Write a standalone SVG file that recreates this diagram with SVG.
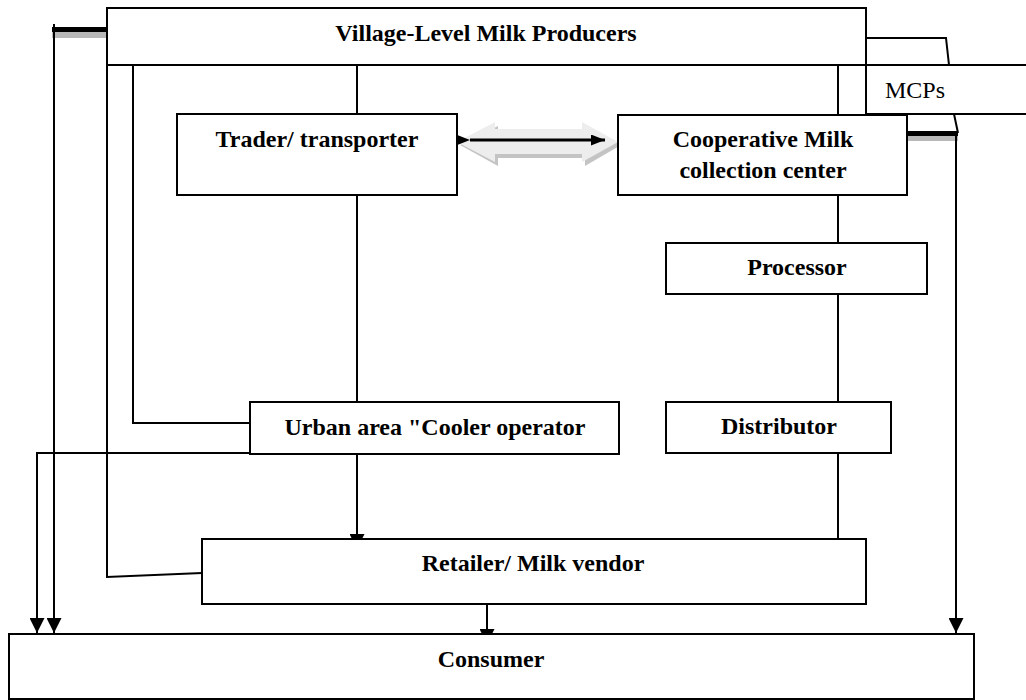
<svg xmlns="http://www.w3.org/2000/svg" width="1026" height="700" viewBox="0 0 1026 700">
<style>
.box{fill:#fff;stroke:#000;stroke-width:2}
.ln{fill:none;stroke:#000;stroke-width:2}
.t{font-family:"Liberation Serif","Times New Roman",serif;font-size:24px;font-weight:bold;text-anchor:middle;fill:#000}
.tr{font-family:"Liberation Serif","Times New Roman",serif;font-size:24px;fill:#000}
</style>
<defs>
<marker id="ah" markerUnits="userSpaceOnUse" markerWidth="15" markerHeight="15" refX="15" refY="7.5" orient="auto">
<path d="M0,0 L15,7.5 L0,15 z" fill="#000"/>
</marker>
<marker id="sh" markerUnits="userSpaceOnUse" markerWidth="14" markerHeight="11" refX="14" refY="5.5" orient="auto">
<path d="M0,0 L14,5.5 L0,11 z" fill="#000"/>
</marker>
</defs>
<g id="connectors">
<!-- top-left thick bar and left down line -->
<rect x="52" y="32" width="54" height="6" fill="#b8b8b8"/>
<rect x="52" y="27" width="54" height="5" fill="#000"/>
<line class="ln" x1="109" y1="24" x2="109" y2="42"/>
<path class="ln" d="M54,24 V633" marker-end="url(#ah)"/>
<!-- urban bottom to consumer -->
<path class="ln" d="M257,453 H37 V633" marker-end="url(#ah)"/>
<!-- village left edge down to retailer -->
<path class="ln" d="M107,65 V577 L202,573"/>
<!-- village to urban -->
<path class="ln" d="M133,65 V423 H250"/>
<!-- trader column -->
<line class="ln" x1="357" y1="65" x2="357" y2="114"/>
<line class="ln" x1="357" y1="195" x2="357" y2="402"/>
<path class="ln" d="M357,454 V549" marker-end="url(#ah)"/>
<!-- coop column -->
<line class="ln" x1="838" y1="65" x2="838" y2="115"/>
<line class="ln" x1="838" y1="195" x2="838" y2="243"/>
<line class="ln" x1="838" y1="294" x2="838" y2="402"/>
<line class="ln" x1="838" y1="453" x2="838" y2="539"/>
<!-- retailer to consumer -->
<path class="ln" d="M487,604 V644" marker-end="url(#ah)"/>
<!-- top right to MCPs -->
<path class="ln" d="M866,38 H946 L949,65"/>
<!-- MCPs to consumer -->
<path class="ln" d="M954,114 L958,133"/>
<rect x="907" y="135" width="51" height="6" fill="#b8b8b8"/>
<rect x="907" y="131" width="51" height="5" fill="#000"/>
<path class="ln" d="M956,133 V633" marker-end="url(#ah)"/>
<!-- gray block double arrow -->
<polygon points="460,145 498,126 498,133 585,133 585,126 621,145 585,166 585,158 498,158 498,166" fill="#c4c4c4"/>
<polygon points="457,142 495,122 495,129 582,129 582,122 618,142 582,162 582,154 495,154 495,162" fill="#ededed"/>
<path d="M470,140 H605" stroke="#000" stroke-width="3" marker-start="url(#sh)" marker-end="url(#sh)" fill="none"/>
</g>
<g id="village">
<rect class="box" x="107" y="8" width="759" height="57"/>
<text class="t" x="486" y="41">Village-Level Milk Producers</text>
</g>
<g id="mcps">
<path d="M866,65 H1027 V114 H866 Z" class="box"/>
<text class="tr" x="885" y="98">MCPs</text>
</g>
<g id="trader">
<rect class="box" x="177" y="114" width="280" height="81"/>
<text class="t" x="317" y="147">Trader/ transporter</text>
</g>
<g id="coop">
<rect class="box" x="618" y="115" width="289" height="80"/>
<text class="t" x="763" y="147">Cooperative Milk</text>
<text class="t" x="763" y="178">collection center</text>
</g>
<g id="processor">
<rect class="box" x="666" y="243" width="261" height="51"/>
<text class="t" x="797" y="275">Processor</text>
</g>
<g id="urban">
<rect class="box" x="250" y="402" width="369" height="52"/>
<text class="t" x="435" y="435">Urban area "Cooler operator</text>
</g>
<g id="distributor">
<rect class="box" x="666" y="402" width="225" height="51"/>
<text class="t" x="779" y="434">Distributor</text>
</g>
<g id="retailer">
<rect class="box" x="202" y="539" width="664" height="65"/>
<text class="t" x="533" y="571">Retailer/ Milk vendor</text>
</g>
<g id="consumer">
<rect class="box" x="9" y="634" width="965" height="65"/>
<text class="t" x="491" y="667">Consumer</text>
</g>
</svg>
